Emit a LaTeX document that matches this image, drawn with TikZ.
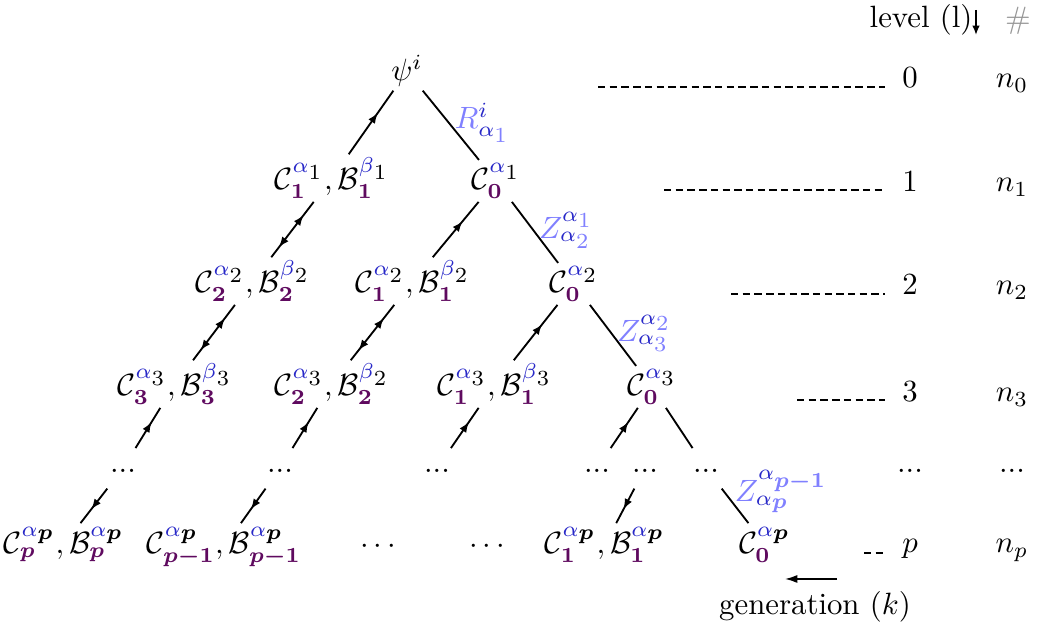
\documentclass[tikz,border=0pt]{standalone}
\usepackage{bm}
\usetikzlibrary{decorations.markings,arrows.meta}
\definecolor{supblue}{RGB}{40,40,200}
\definecolor{subpurple}{RGB}{95,10,95}
\definecolor{lablue}{RGB}{128,128,255}
\definecolor{hashgray}{RGB}{150,150,150}
% exposants / indices colores
\newcommand{\al}[1]{{{\color{supblue}\alpha}}_{\scriptstyle #1}}
\newcommand{\bt}[1]{{{\color{supblue}\beta}}_{\scriptstyle #1}}
\newcommand{\kk}[1]{{\color{subpurple}\bm{#1}}}
\newcommand{\CB}[3]{\mathcal{C}^{#2}_{\kk{#1}},\mathcal{B}^{#3}_{\kk{#1}}}
\newcommand{\Cz}[1]{\mathcal{C}^{#1}_{\kk{0}}}
\tikzset{
  tn/.style={anchor=base,inner sep=1pt},
  dots/.style={anchor=base,inner sep=1pt,text height=1.6ex,text depth=0.9ex},
  lvl/.style={anchor=base,inner sep=0pt},
  elab/.style={anchor=west,inner sep=1pt,text=lablue,yshift=0.8pt},
  plain/.style={line width=0.6pt},
  upar/.style={plain,decoration={markings,mark=at position 0.65 with {\arrow{Latex[length=3.4pt,width=2.6pt]}}},postaction={decorate}},
  dnar/.style={plain,decoration={markings,mark=at position 0.6 with {\arrow{Latex[length=3.4pt,width=2.6pt]}}},postaction={decorate}},
  bothar/.style={plain,decoration={markings,
      mark=at position 0.24 with {\arrowreversed{Latex[length=3.4pt,width=2.6pt]}},
      mark=at position 0.82 with {\arrow{Latex[length=3.4pt,width=2.6pt]}}},postaction={decorate}},
  levdash/.style={line width=0.4pt,dash pattern=on 2.4pt off 1.4pt,shorten >=5.5pt},
}

\begin{document}
\begin{tikzpicture}[x=0.3247pt,y=-0.3247pt]
  \useasboundingbox (0,0) rectangle (1047,631);

  % --- arbre ---
  \node[tn] (psi) at (407,81) {$\psi^{i}$};
  % niveau 1
  \node[tn] (a1) at (332,190) {$\CB{1}{\al{1}}{\bt{1}}$};
  \node[tn] (z1) at (496,190) {$\Cz{\al{1}}$};
  % niveau 2
  \node[tn] (a2) at (253,293) {$\CB{2}{\al{2}}{\bt{2}}$};
  \node[tn] (b2) at (413,293) {$\CB{1}{\al{2}}{\bt{2}}$};
  \node[tn] (z2) at (574,293) {$\Cz{\al{2}}$};
  % niveau 3
  \node[tn] (a3) at (175,396) {$\CB{3}{\al{3}}{\bt{3}}$};
  \node[tn] (b3) at (332,396) {$\CB{2}{\al{3}}{\bt{2}}$};
  \node[tn] (c3) at (495,396) {$\CB{1}{\al{3}}{\bt{3}}$};
  \node[tn] (z3) at (652,396) {$\Cz{\al{3}}$};
  % points de suspension
  \node[dots] (da) at (123,473) {...};
  \node[dots] (db) at (280,473) {...};
  \node[dots] (dc) at (437,473) {...};
  \node[dots] (dd) at (597,473) {...};
  \node[dots] (de) at (645,473) {...};
  \node[dots] (df) at (706,473) {...};
  % niveau p
  \node[tn] (ap) at (64,554) {$\mathcal{C}^{\al{\bm p}}_{\kk{p}},\mathcal{B}^{\al{\bm p}}_{\kk{p}}$};
  \node[tn] (bp) at (224,554) {$\mathcal{C}^{\al{\bm p}}_{\kk{p-1}},\mathcal{B}^{\al{\bm p}}_{\kk{p-1}}$};
  \node[tn] (cda) at (378,554) {$\cdots$};
  \node[tn] (cdb) at (487,554) {$\cdots$};
  \node[tn] (cp) at (605,554) {$\mathcal{C}^{\al{\bm p}}_{\kk{1}},\mathcal{B}^{\al{\bm p}}_{\kk{1}}$};
  \node[tn] (zp) at (765,554) {$\Cz{\al{\bm p}}$};

  % --- aretes ---
  \draw[upar] (a1) -- (psi);
  \draw[plain] (psi) -- node[elab]{$R^{{\color{supblue}i}}_{\al{1}}$} (z1);
  \draw[bothar] (a1) -- (a2);
  \draw[upar] (b2) -- (z1);
  \draw[plain] (z1) -- node[elab]{$Z^{\al{1}}_{\al{2}}$} (z2);
  \draw[bothar] (a2) -- (a3);
  \draw[bothar] (b2) -- (b3);
  \draw[upar] (c3) -- (z2);
  \draw[plain] (z2) -- node[elab]{$Z^{\al{2}}_{\al{3}}$} (z3);
  \draw[upar] (da) -- (a3);
  \draw[upar] (db) -- (b3);
  \draw[upar] (dc) -- (c3);
  \draw[upar] (dd) -- (z3);
  \draw[plain] (z3) -- (df);
  \draw[dnar] (da) -- (ap);
  \draw[dnar] (db) -- (bp);
  \draw[dnar] (de) -- (cp);
  \draw[plain] (df) -- node[elab,pos=0,xshift=3pt,yshift=-1.8pt]{$Z^{\al{\bm{p-1}}}_{\al{\bm p}}$} (zp);

  % --- colonne des niveaux ---
  \node[lvl,anchor=base east] (lvh) at (973,28) {level (l)};
  \coordinate (ha) at (976,10);
  \coordinate (hb) at (976,35);
  \draw[line width=0.5pt,-{Latex[length=3pt,width=2.4pt]}] (ha) -- (hb);
  \node[lvl,text=hashgray] (nh) at (1018,29) {\#};
  \foreach \nm/\yy/\lv/\nn in {0/88/0/n_0,1/192/1/n_1,2/295/2/n_2,3/402/3/n_3,p/553/p/n_p}{%
    \node[lvl] (lv\nm) at (910,\yy) {$\lv$};
    \node[lvl] (nn\nm) at (1012,\yy) {$\nn$};
  }
  \node[dots] (lvd) at (910,473) {...};
  \node[dots] (nnd) at (1012,473) {...};
  \foreach \nm/\xx/\yy in {0/598/87,1/664/190,2/731/294,3/797/400,p/864/553}{%
    \coordinate (d\nm) at (\xx,\yy);
    \draw[levdash] (d\nm) -- (d\nm -| lv\nm.west);
  }

  % --- generation ---
  \node[lvl] (gen) at (815,615) {generation $(k)$};
  \coordinate (ga) at (837,579);
  \coordinate (gb) at (785,579);
  \draw[line width=0.5pt,-{Latex[length=4pt,width=2.6pt]}] (ga) -- (gb);
\end{tikzpicture}
\end{document}
